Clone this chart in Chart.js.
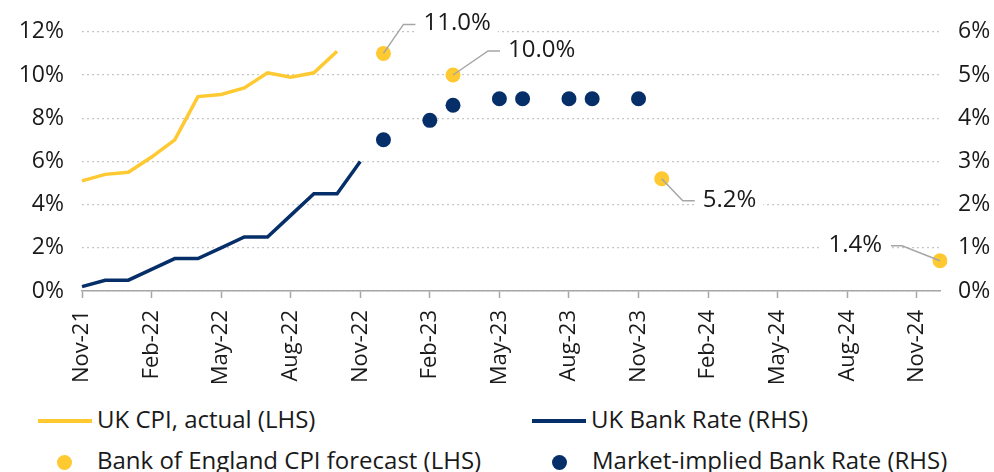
<!DOCTYPE html>
<html>
<head>
<meta charset="utf-8">
<script src="https://cdn.jsdelivr.net/npm/chart.js@4.4.0/dist/chart.umd.min.js"></script>
<style>
    body { margin: 0; background: #fff; font-family: 'Open Sans', sans-serif; color: #1a1a1a; }
    #wrap { position: relative; width: 994px; height: 472px; overflow: hidden; }
    #c { position: absolute; left: 0; top: 0; }
    .lg { position: absolute; font-size: 24px; line-height: 28px; white-space: nowrap; transform: translateY(-50%); }
    .sw { position: absolute; }
</style>
</head>
<body>
<div id="wrap">
    <canvas id="c" width="994" height="392"></canvas>
    <div id="legend"></div>
</div>
<script>
// monthly categories, Nov-21 .. Dec-24
const months = [
    'Nov-21', 'Dec-21', 'Jan-22', 'Feb-22', 'Mar-22', 'Apr-22', 'May-22', 'Jun-22', 'Jul-22', 'Aug-22',
    'Sep-22', 'Oct-22', 'Nov-22', 'Dec-22', 'Jan-23', 'Feb-23', 'Mar-23', 'Apr-23', 'May-23', 'Jun-23',
    'Jul-23', 'Aug-23', 'Sep-23', 'Oct-23', 'Nov-23', 'Dec-23', 'Jan-24', 'Feb-24', 'Mar-24', 'Apr-24',
    'May-24', 'Jun-24', 'Jul-24', 'Aug-24', 'Sep-24', 'Oct-24', 'Nov-24', 'Dec-24'
];
const xTickLabels = [
    'Nov-21', 'Feb-22', 'May-22', 'Aug-22', 'Nov-22', 'Feb-23', 'May-23',
    'Aug-23', 'Nov-23', 'Feb-24', 'May-24', 'Aug-24', 'Nov-24'
];

// UK CPI actual (LHS), from Nov-21
const cpiActual = [5.1, 5.4, 5.5, 6.2, 7.0, 9.0, 9.1, 9.4, 10.1, 9.9, 10.1, 11.1];
// UK Bank Rate (RHS), from Nov-21
const bankRate = [0.1, 0.25, 0.25, 0.5, 0.75, 0.75, 1.0, 1.25, 1.25, 1.75, 2.25, 2.25, 3.0];

// Bank of England CPI forecast (LHS)
const forecastMonths = ['Dec-22', 'Mar-23', 'Dec-23', 'Dec-24'];
const forecastValues = [11.0, 10.0, 5.2, 1.4];

// Market-implied Bank Rate (RHS)
const marketMonths = ['Dec-22', 'Feb-23', 'Mar-23', 'May-23', 'Jun-23', 'Aug-23', 'Sep-23', 'Nov-23'];
const marketValues = [3.5, 3.95, 4.3, 4.45, 4.45, 4.45, 4.45, 4.45];

const yellow = '#fec931';
const navy = '#062f6a';
const textColor = '#1a1a1a';
const axisGrey = '#a6a6a6';
const font = "'Open Sans', sans-serif";

const pad = (arr) => months.map((m, i) => (i < arr.length ? arr[i] : null));

// leader lines for the forecast labels (offsets from the point)
const calloutStyle = [
    { dx: 20, dy: -29, run: 12 },
    { dx: 35, dy: -24, run: 12 },
    { dx: 21, dy: 22, run: 12 },
    { dx: -38, dy: -15, run: -11 }
];

const calloutPlugin = {
    id: 'callouts',
    afterDatasetsDraw(chart) {
        const ctx = chart.ctx;
        const meta = chart.getDatasetMeta(2);
        ctx.save();
        ctx.font = "24px " + font;
        ctx.textBaseline = 'middle';
        meta.data.forEach((pt, i) => {
            const s = calloutStyle[i];
            const x1 = pt.x + s.dx, y1 = pt.y + s.dy, x2 = x1 + s.run;
            const text = forecastValues[i].toFixed(1) + '%';
            const w = ctx.measureText(text).width;
            const tx = s.run > 0 ? x2 + 8 : x2 - 9 - w;

            ctx.fillStyle = '#fff';
            ctx.fillRect(tx - 7, y1 - 14, w + 14, 28);

            ctx.strokeStyle = axisGrey;
            ctx.lineWidth = 1.5;
            ctx.beginPath();
            ctx.moveTo(pt.x, pt.y);
            ctx.lineTo(x1, y1);
            ctx.lineTo(x2, y1);
            ctx.stroke();

            ctx.fillStyle = textColor;
            ctx.fillText(text, tx, y1 - 1);
        });
        ctx.restore();
    }
};

const chart = new Chart(document.getElementById('c'), {
    type: 'line',
    data: {
        labels: months,
        datasets: [
            {
                label: 'UK CPI, actual (LHS)',
                data: pad(cpiActual),
                borderColor: yellow,
                borderWidth: 3.5,
                pointRadius: 0,
                yAxisID: 'y'
            },
            {
                label: 'UK Bank Rate (RHS)',
                data: pad(bankRate),
                borderColor: navy,
                borderWidth: 3.5,
                pointRadius: 0,
                yAxisID: 'y2'
            },
            {
                label: 'Bank of England CPI forecast (LHS)',
                data: forecastMonths.map((m, i) => ({ x: m, y: forecastValues[i] })),
                showLine: false,
                pointRadius: 7.5,
                pointBorderWidth: 0,
                pointBackgroundColor: yellow,
                borderColor: yellow,
                yAxisID: 'y'
            },
            {
                label: 'Market-implied Bank Rate (RHS)',
                data: marketMonths.map((m, i) => ({ x: m, y: marketValues[i] })),
                showLine: false,
                pointRadius: 7.5,
                pointBorderWidth: 0,
                pointBackgroundColor: navy,
                borderColor: navy,
                yAxisID: 'y2'
            }
        ]
    },
    options: {
        responsive: false,
        animation: false,
        devicePixelRatio: 1,
        events: [],
        layout: { padding: { top: 31, left: 0, right: 0, bottom: 0 } },
        plugins: { legend: { display: false }, tooltip: { enabled: false } },
        scales: {
            x: {
                ticks: {
                    autoSkip: false,
                    minRotation: 90,
                    maxRotation: 90,
                    padding: 12,
                    color: textColor,
                    font: { family: font, size: 22 },
                    callback(v) {
                        const l = this.getLabelForValue(v);
                        return xTickLabels.includes(l) ? l : null;
                    }
                },
                grid: { drawOnChartArea: false, drawTicks: true, tickLength: 7, tickWidth: 1.5, tickColor: axisGrey, color: axisGrey },
                border: { display: true, color: axisGrey, width: 1.5 },
                afterFit: (s) => { s.height = 101; }
            },
            y: {
                position: 'left',
                min: 0,
                max: 12,
                ticks: { stepSize: 2, padding: 18, color: textColor, font: { family: font, size: 23 }, callback: (v) => v + '%' },
                grid: { color: '#c6c6c6', lineWidth: 1.3, drawTicks: false },
                border: { display: false, dash: [2, 3] },
                afterFit: (s) => { s.width = 82; }
            },
            y2: {
                position: 'right',
                min: 0,
                max: 6,
                ticks: { stepSize: 1, padding: 18, color: textColor, font: { family: font, size: 23 }, callback: (v) => v + '%' },
                grid: { display: false, drawTicks: false },
                border: { display: false },
                afterFit: (s) => { s.width = 54; }
            }
        }
    },
    plugins: [calloutPlugin]
});

// legend laid out in two rows, two columns
const legendSlots = [
    { left: 97, top: 419 },
    { left: 591, top: 419 },
    { left: 97, top: 460 },
    { left: 592, top: 460 }
];
const legendEl = document.getElementById('legend');
chart.data.datasets.forEach((ds, i) => {
    const slot = legendSlots[i];
    const item = document.createElement('div');
    item.className = 'lg';
    item.style.left = slot.left + 'px';
    item.style.top = slot.top + 'px';
    item.textContent = ds.label;
    legendEl.appendChild(item);

    const sw = document.createElement('div');
    sw.className = 'sw';
    if (ds.showLine === false) {
        sw.style.left = (slot.left - 40) + 'px';
        sw.style.top = (slot.top - 5) + 'px';
        sw.style.width = '15px';
        sw.style.height = '15px';
        sw.style.borderRadius = '50%';
    } else {
        sw.style.left = (slot.left - 59) + 'px';
        sw.style.top = slot.top + 'px';
        sw.style.width = '54px';
        sw.style.height = '4px';
    }
    sw.style.background = ds.borderColor;
    legendEl.appendChild(sw);
});
</script>
</body>
</html>
